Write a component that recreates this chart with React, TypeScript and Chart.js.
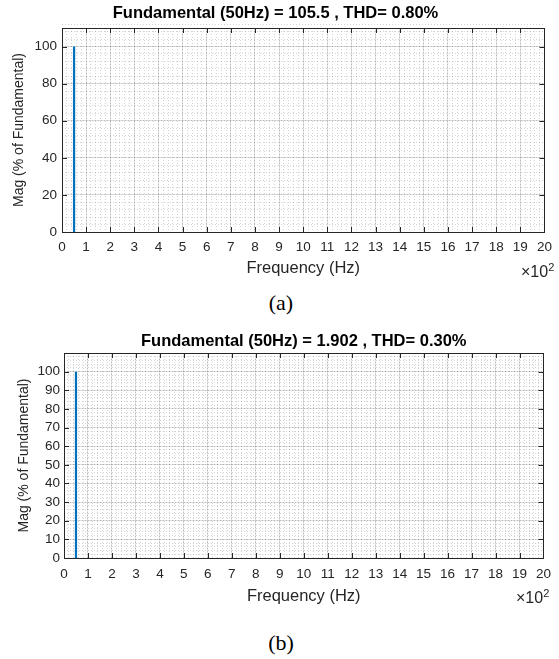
import React, { useEffect, useRef } from "react";
import { Chart, registerables } from "chart.js";

Chart.register(...registerables);

// ---------- data ----------
// frequency in units of x10^2 Hz (fundamental 50 Hz)
const harmonicFreqs = [0.5];
const magnitudesA = [100];
const magnitudesB = [100];
const xTickValues = [0, 1, 2, 3, 4, 5, 6, 7, 8, 9, 10, 11, 12, 13, 14, 15, 16, 17, 18, 19, 20];
const yTickValuesA = [0, 20, 40, 60, 80, 100];
const yTickValuesB = [0, 10, 20, 30, 40, 50, 60, 70, 80, 90, 100];
const xMax = 20;
const yMax = 110;
const xMinorStep = 0.2;
const yMinorStepA = 4;
const yMinorStepB = 2;
const titleA = "Fundamental (50Hz) = 105.5 , THD= 0.80%";
const titleB = "Fundamental (50Hz) = 1.902 , THD= 0.30%";
const xAxisTitle = "Frequency (Hz)";
const yAxisTitle = "Mag (% of Fundamental)";

const SANS = '"Liberation Sans", Arial, Helvetica, sans-serif';
const AXIS = "#262626";
const BLUE = "#0072BD";

const stepTicks = (max: number, step: number) => {
  const n = Math.round(max / step);
  const out: { value: number }[] = [];
  for (let i = 0; i <= n; i++) out.push({ value: +(i * step).toFixed(6) });
  return out;
};

const boxPlugin = {
  id: "matlabBox",
  afterDatasetsDraw(chart: any) {
    const { ctx, chartArea: a, scales } = chart;
    const xs = scales.x;
    const ys = scales.y;
    const L = 5;
    const al = (v: number) => Math.round(v) + 0.5;
    ctx.save();
    ctx.strokeStyle = AXIS;
    ctx.lineWidth = 1;
    ctx.beginPath();
    xs.ticks.forEach((t: any) => {
      const px = al(xs.getPixelForValue(t.value));
      ctx.moveTo(px, a.bottom);
      ctx.lineTo(px, a.bottom - L);
      ctx.moveTo(px, a.top);
      ctx.lineTo(px, a.top + L);
    });
    ys.ticks.forEach((t: any) => {
      const py = al(ys.getPixelForValue(t.value));
      ctx.moveTo(a.left, py);
      ctx.lineTo(a.left + L, py);
      ctx.moveTo(a.right, py);
      ctx.lineTo(a.right - L, py);
    });
    ctx.stroke();
    ctx.strokeRect(al(a.left), al(a.top), Math.round(a.right) - Math.round(a.left), Math.round(a.bottom) - Math.round(a.top));
    ctx.restore();
  },
};

type Panel = {
  title: string;
  mags: number[];
  yTicks: number[];
  yMinor: number;
  left: number;
  rightPad: number;
  titlePad: { top: number; bottom: number };
  titleFull: boolean;
  yTitlePad: number;
  xTitlePadBottom: number;
  xTickPad: number;
  yTickPad: number;
  yTickSize: number;
  bottom: number;
};

const W = 559;
const H = 290;

function PanelChart({ p }: { p: Panel }) {
  const ref = useRef<HTMLCanvasElement | null>(null);
  useEffect(() => {
    if (!ref.current) return;
    const data: any[] = [];
    harmonicFreqs.forEach((f, i) => {
      data.push({ x: f, y: 0 }, { x: f, y: p.mags[i] }, { x: f, y: null });
    });
    const chart = new Chart(ref.current, {
      type: "line",
      data: {
        datasets: [
          {
            data,
            borderColor: BLUE,
            borderWidth: 2.2,
            borderCapStyle: "butt",
            pointRadius: 0,
            spanGaps: false,
            tension: 0,
          },
        ],
      },
      options: {
        responsive: false,
        animation: false,
        events: [],
        layout: { padding: { left: 0, right: p.rightPad, top: 0, bottom: 0 } },
        plugins: {
          legend: { display: false },
          tooltip: { enabled: false },
          title: {
            display: true,
            text: p.title,
            color: "#000",
            fullSize: p.titleFull,
            font: { family: SANS, size: 16.5, weight: "bold" },
            padding: p.titlePad,
          },
        },
        scales: {
          x: {
            type: "linear",
            min: 0,
            max: xMax,
            afterBuildTicks: (s: any) => {
              s.ticks = xTickValues.map((v) => ({ value: v }));
            },
            afterFit: (s: any) => {
              s.height = H - p.bottom;
            },
            ticks: {
              autoSkip: false,
              maxRotation: 0,
              minRotation: 0,
              padding: p.xTickPad,
              color: AXIS,
              font: { family: SANS, size: 13.5 },
              callback: (v: any) => String(v),
            },
            grid: { color: "rgba(38,38,38,0.15)", lineWidth: 1, drawTicks: false },
            border: { display: false },
            title: {
              display: true,
              text: xAxisTitle,
              color: AXIS,
              font: { family: SANS, size: 16.5 },
              padding: { top: 0, bottom: p.xTitlePadBottom },
            },
          },
          xMinor: {
            type: "linear",
            position: "bottom",
            min: 0,
            max: xMax,
            afterBuildTicks: (s: any) => {
              s.ticks = stepTicks(xMax, xMinorStep);
            },
            ticks: { display: false },
            grid: { color: "rgba(38,38,38,0.2)", lineWidth: 1, drawTicks: false },
            border: { display: false, dash: [1, 2] },
          },
          y: {
            type: "linear",
            min: 0,
            max: yMax,
            afterBuildTicks: (s: any) => {
              s.ticks = p.yTicks.map((v) => ({ value: v }));
            },
            afterFit: (s: any) => {
              s.width = p.left;
            },
            ticks: {
              padding: p.yTickPad,
              color: AXIS,
              font: { family: SANS, size: p.yTickSize },
              callback: (v: any) => String(v),
            },
            grid: { color: "rgba(38,38,38,0.15)", lineWidth: 1, drawTicks: false },
            border: { display: false },
            title: {
              display: true,
              text: yAxisTitle,
              color: AXIS,
              font: { family: SANS, size: 14 },
              padding: { top: p.yTitlePad, bottom: 0 },
            },
          },
          yMinor: {
            type: "linear",
            position: "left",
            min: 0,
            max: yMax,
            afterBuildTicks: (s: any) => {
              s.ticks = stepTicks(yMax, p.yMinor);
            },
            ticks: { display: false },
            grid: { color: "rgba(38,38,38,0.2)", lineWidth: 1, drawTicks: false },
            border: { display: false, dash: [1, 2] },
          },
        },
      } as any,
      plugins: [boxPlugin],
    });
    return () => chart.destroy();
  }, []);
  return <canvas ref={ref} width={W} height={H} style={{ width: W, height: H, display: "block" }} />;
}

const panelA: Panel = {
  title: titleA,
  mags: magnitudesA,
  yTicks: yTickValuesA,
  yMinor: yMinorStepA,
  left: 62,
  rightPad: 8,
  titlePad: { top: 3.7, bottom: 4.5 },
  titleFull: true,
  yTitlePad: 10.6,
  xTitlePadBottom: 11.2,
  xTickPad: 7,
  yTickPad: 5,
  yTickSize: 13.5,
  bottom: 232,
};

const panelB: Panel = {
  title: titleB,
  mags: magnitudesB,
  yTicks: yTickValuesB,
  yMinor: yMinorStepB,
  left: 64,
  rightPad: 9,
  titlePad: { top: 5.6, bottom: 1.6 },
  titleFull: false,
  yTitlePad: 15.6,
  xTitlePadBottom: 9.2,
  xTickPad: 8,
  yTickPad: 4,
  yTickSize: 13.5,
  bottom: 232,
};

const expStyle: React.CSSProperties = {
  position: "absolute",
  font: `16px ${SANS}`,
  lineHeight: "16px",
  color: AXIS,
  whiteSpace: "nowrap",
};
const supStyle: React.CSSProperties = {
  fontSize: 11,
  position: "relative",
  top: -6,
  verticalAlign: "baseline",
};
const capStyle: React.CSSProperties = {
  position: "absolute",
  left: 0,
  width: 562,
  textAlign: "center",
  font: `22px "Liberation Serif", "Times New Roman", serif`,
  lineHeight: "22px",
  color: "#000",
};

export default function App() {
  return (
    <div style={{ position: "absolute", left: 0, top: 0, width: W, height: 659, background: "#fff", overflow: "hidden" }}>
      <div style={{ position: "absolute", left: 0, top: 0 }}>
        <PanelChart p={panelA} />
      </div>
      <div style={{ ...expStyle, left: 521, top: 264 }}>
        ×10<span style={supStyle}>2</span>
      </div>
      <div style={{ ...capStyle, top: 292 }}>(a)</div>
      <div style={{ position: "absolute", left: 0, top: 326 }}>
        <PanelChart p={panelB} />
      </div>
      <div style={{ ...expStyle, left: 516, top: 590 }}>
        ×10<span style={supStyle}>2</span>
      </div>
      <div style={{ ...capStyle, top: 632 }}>(b)</div>
    </div>
  );
}
